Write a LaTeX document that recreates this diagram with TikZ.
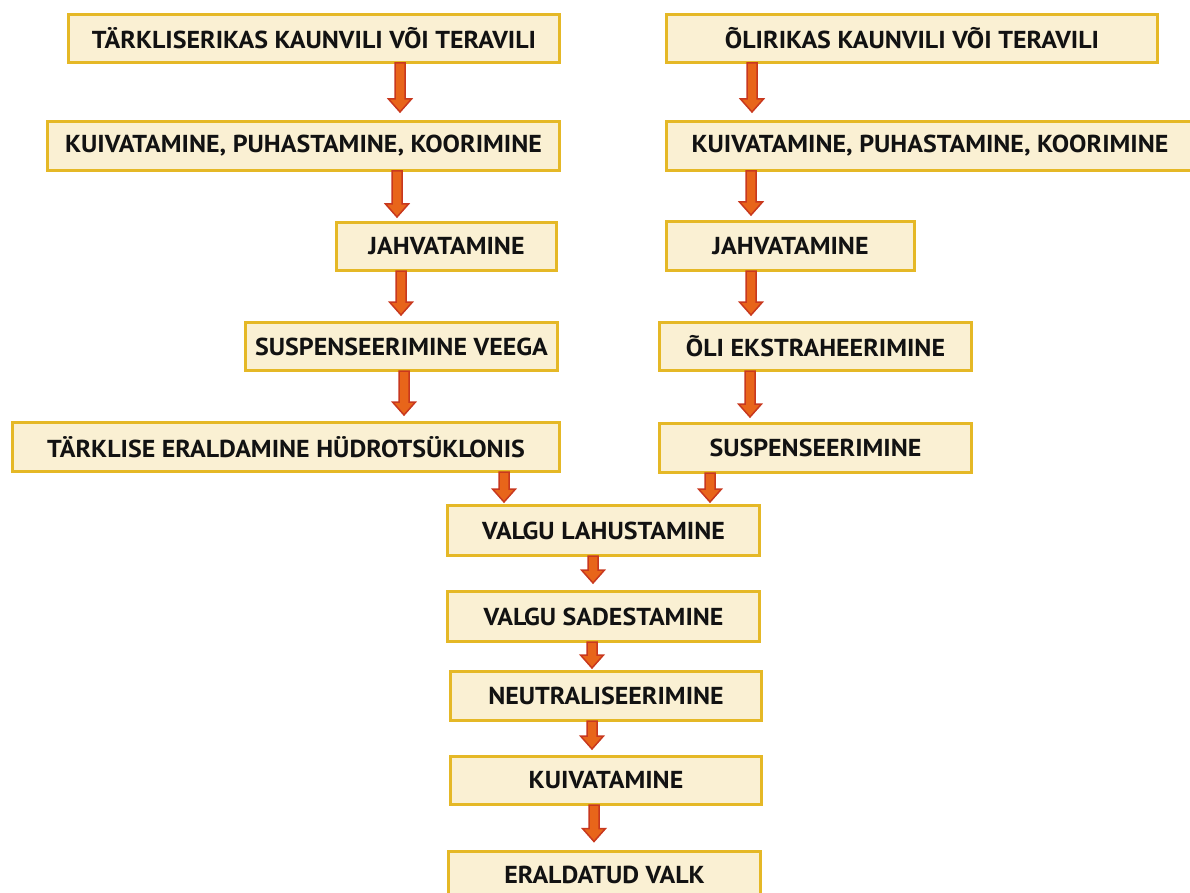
\documentclass[tikz,border=0pt]{standalone}
\usepackage{fontspec}
\setmainfont{PT Sans}[FakeStretch=1.06]
\usetikzlibrary{calc}
\definecolor{boxfill}{RGB}{250,240,211}
\definecolor{boxline}{RGB}{229,184,38}
\definecolor{arrfill}{RGB}{232,101,26}
\definecolor{arrline}{RGB}{200,56,30}
\tikzset{
  boxtext/.style={font=\fontsize{24.5}{29}\selectfont\bfseries, text=black!93},
  stepbox/.style={boxtext, draw=boxline, fill=boxfill, line width=3pt, inner sep=0pt},
  flowarrow/.style={draw=arrline, fill=arrfill, line width=1.5pt, line join=miter}
}
% \bx{name}{x1}{x2}{y1}{y2}{text}
\newcommand\bx[6]{%
  \node[stepbox, minimum width={#3-#2-3}, minimum height={#5-#4-3}]
    (#1) at ({(#2+#3)/2},{(#4+#5)/2}) {#6};}
% \flowarr{gap}{x}{from}{to}
\newcommand\flowarr[4]{%
  \filldraw[flowarrow] let \p1=(#2,0), \p2=(#3.south), \p3=(#4.north) in
    (\x1-5pt,\y2+1pt) -- (\x1+5pt,\y2+1pt) -- (\x1+5pt,\y3+#1pt+13pt)
    -- (\x1+11.5pt,\y3+#1pt+13pt) -- (\x1,\y3+#1pt) -- (\x1-11.5pt,\y3+#1pt+13pt)
    -- (\x1-5pt,\y3+#1pt+13pt) -- cycle;}
\begin{document}
\begin{tikzpicture}[x=1pt,y=-1pt]
\useasboundingbox (0,0) rectangle (1190,893);
\clip (0,0) rectangle (1190,893);
% left column
\bx{L1}{67}{561}{13}{64}{TÄRKLISERIKAS KAUNVILI VÕI TERAVILI}
\bx{L2}{46}{561}{120}{172}{KUIVATAMINE, PUHASTAMINE, KOORIMINE}
\bx{L3}{335}{558}{221}{272}{JAHVATAMINE}
\bx{L4}{244}{559}{321}{372}{SUSPENSEERIMINE VEEGA}
\bx{L5}{11}{561}{421}{473}{TÄRKLISE ERALDAMINE HÜDROTSÜKLONIS}
% right column
\bx{R1}{665}{1159}{13}{64}{ÕLIRIKAS KAUNVILI VÕI TERAVILI}
\bx{R2}{665}{1195}{120}{172}{KUIVATAMINE, PUHASTAMINE, KOORIMINE}
\bx{R3}{665}{916}{220}{272}{JAHVATAMINE}
\bx{R4}{658}{973}{321}{372}{ÕLI EKSTRAHEERIMINE}
\bx{R5}{658}{973}{422}{474}{SUSPENSEERIMINE}
% centre column
\bx{C1}{446}{761}{504}{557}{VALGU LAHUSTAMINE}
\bx{C2}{446}{761}{590}{643}{VALGU SADESTAMINE}
\bx{C3}{449}{763}{670}{722}{NEUTRALISEERIMINE}
\bx{C4}{449}{763}{755}{806}{KUIVATAMINE}
\node[stepbox, minimum width=312, minimum height=60, anchor=north] (C5) at (604.5,849.5) {};
\node[boxtext] (C5t) at (604.5,875) {ERALDATUD VALK};
% arrows
\flowarr{8}{400}{L1}{L2}
\flowarr{4}{397}{L2}{L3}
\flowarr{6}{401}{L3}{L4}
\flowarr{6}{404}{L4}{L5}
\flowarr{2}{504}{L5}{C1}
\flowarr{8}{752}{R1}{R2}
\flowarr{5}{751}{R2}{R3}
\flowarr{6}{751}{R3}{R4}
\flowarr{5}{750}{R4}{R5}
\flowarr{2}{710}{R5}{C1}
\flowarr{7}{593}{C1}{C2}
\flowarr{2}{592}{C2}{C3}
\flowarr{6}{592}{C3}{C4}
\flowarr{8}{594}{C4}{C5}
\end{tikzpicture}
\end{document}
